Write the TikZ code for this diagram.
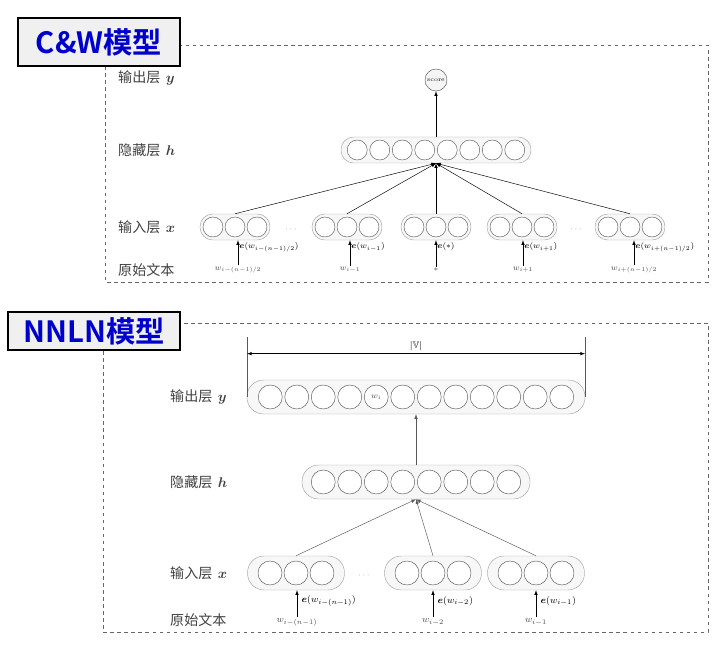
\documentclass[tikz,border=0pt]{standalone}
\usepackage{amssymb}
\usepackage{fontspec}
\usepackage{bm}
\newfontfamily\cjk{Noto Sans CJK SC}[BoldFont={Noto Sans CJK SC Bold}]
\usetikzlibrary{positioning}
\begin{document}
\begin{tikzpicture}[
	x=0.03cm, y=-0.03cm,
	frame/.style={draw=gray!80!black, dashed, thick},
	title/.style={draw, very thick, fill=gray!12, inner sep=0pt, font=\cjk\bfseries\fontsize{25}{25}\selectfont, text=blue!80!black},
	lbl/.style={anchor=west, inner sep=0pt, font=\cjk\fontsize{12}{12}\selectfont, text=black!75},
	cwlay/.style={draw=gray!70, fill=gray!6, rounded corners=0.38cm, minimum height=0.78cm, inner sep=0pt},
	nnlay/.style={draw=gray!70, fill=gray!6, rounded corners=0.5cm, minimum height=1.02cm, inner sep=0pt},
	cwunit/.style={circle, draw=gray!70!black, fill=white, minimum size=0.6cm, inner sep=0pt},
	nnunit/.style={circle, draw=gray!70!black, fill=white, minimum size=0.72cm, inner sep=0pt},
	word/.style={inner sep=1pt, font=\scriptsize, text=black!70},
	emb/.style={anchor=west, inner sep=1pt, font=\footnotesize},
	ArrowUp/.style={-latex, thin},
]
	\useasboundingbox (0,0) rectangle (720,650);

	% ---- C&W ----
	\draw [frame] (105,45) rectangle (708,282);
	\node [title, minimum width=4.86cm, minimum height=1.44cm] (cwtitle) at (99,42) {C\&W模型};
	\node [lbl] (cwy) at (118,78) {输出层\, $\bm{y}$};
	\node [lbl] (cwh) at (118,150) {隐藏层\, $\bm{h}$};
	\node [lbl] (cwx) at (118,227) {输入层\, $\bm{x}$};
	\node [lbl] (cwt) at (118,270) {原始文本};

	\node [circle, draw=gray!70!black, fill=gray!8, minimum size=0.66cm, inner sep=0pt, font=\tiny] (score) at (436,80) {score};
	\node [cwlay, minimum width=5.7cm] (cwhid) at (436,150) {};
	\foreach \i in {1,...,8}
		\node [cwunit] (cwh\i) at ({436+(\i-4.5)*22.5},150) {};

	\foreach \g/\c in {1/235, 2/347, 3/436, 4/522, 5/630} {
		\node [cwlay, minimum width=2.1cm] (cwg\g) at (\c,227) {};
		\foreach \i in {1,2,3}
			\node [cwunit] at ({\c+(\i-2)*22},227) {};
	}
	\node [font=\scriptsize, text=gray] (cwdots1) at (291,230) {$\cdots$};
	\node [font=\scriptsize, text=gray] (cwdots2) at (576,230) {$\cdots$};

	\draw [ArrowUp] (cwhid) -- (score);
	\foreach \g in {1,...,5}
		\draw [-latex, thin] (cwg\g.north) -- (cwhid.south);

	\node [word] (cww1) at (238,270) {$w_{i-(n-1)/2}$};
	\node [word] (cww2) at (350,270) {$w_{i-1}$};
	\node [word] (cww3) at (436,270) {$*$};
	\node [word] (cww4) at (523,270) {$w_{i+1}$};
	\node [word] (cww5) at (634,270) {$w_{i+(n-1)/2}$};
	\foreach \g/\e in {1/{w_{i-(n-1)/2}}, 2/{w_{i-1}}, 3/{*}, 4/{w_{i+1}}, 5/{w_{i+(n-1)/2}}} {
		\draw [ArrowUp] (cww\g.north) -- (cww\g.north |- cwg\g.south) coordinate (cwa\g);
		\node [emb, font=\scriptsize] at ([yshift=-0.2cm]cwa\g) {$\bm{e}(\e)$};
	}

	% ---- NNLN ----
	\draw [frame] (103,323) rectangle (708,632);
	\node [title, minimum width=5.16cm, minimum height=1.14cm] (nntitle) at (94,331) {NNLN模型};
	\node [lbl] (nny) at (170,397) {输出层\, $\bm{y}$};
	\node [lbl] (nnh) at (170,482) {隐藏层\, $\bm{h}$};
	\node [lbl] (nnx) at (170,573) {输入层\, $\bm{x}$};
	\node [lbl] (nnt) at (170,620) {原始文本};

	\node [nnlay, minimum width=10.14cm] (nnout) at (416,397) {};
	\foreach \i in {1,...,12}
		\node [nnunit] (nno\i) at ({416+(\i-6.5)*26.5},397) {};
	\node [font=\scriptsize, text=black!70] at (nno5) {$w_i$};

	\coordinate (vl) at (247,337);
	\coordinate (vr) at (585,337);
	\draw [gray!70!black, thin] (vl) -- (vl |- nnout.center);
	\draw [gray!70!black, thin] (vr) -- (vr |- nnout.center);
	\draw [latex-latex, thin] ([yshift=-0.5cm]vl) -- node [above=-1pt, font=\footnotesize] (vlab) {$|\mathbb{V}|$} ([yshift=-0.5cm]vr);

	\node [nnlay, minimum width=6.84cm] (nnhid) at (416,482) {};
	\foreach \i in {1,...,8}
		\node [nnunit] (nnh\i) at ({416+(\i-4.5)*26.5},482) {};

	\foreach \g/\c in {1/296, 2/433, 3/536} {
		\node [nnlay, minimum width=2.91cm] (nng\g) at (\c,573) {};
		\foreach \i in {1,2,3}
			\node [nnunit] at ({\c+(\i-2)*26},573) {};
	}
	\node [font=\scriptsize, text=gray] (nndots) at (364,576) {$\cdots$};

	\draw [ArrowUp, gray!70!black] (nnhid) -- (nnout);
	\foreach \g in {1,2,3}
		\draw [-latex, gray!70!black, thin] (nng\g.north) -- (nnhid.south);

	\node [word, font=\footnotesize] (nnw1) at (297,622) {$w_{i-(n-1)}$};
	\node [word, font=\footnotesize] (nnw2) at (433,622) {$w_{i-2}$};
	\node [word, font=\footnotesize] (nnw3) at (536,622) {$w_{i-1}$};
	\foreach \g/\e in {1/{w_{i-(n-1)}}, 2/{w_{i-2}}, 3/{w_{i-1}}} {
		\draw [ArrowUp] (nnw\g.north) -- (nnw\g.north |- nng\g.south) coordinate (nna\g);
		\node [emb] at ([xshift=0.1cm, yshift=-0.32cm]nna\g) {$\bm{e}(\e)$};
	}
\end{tikzpicture}
\end{document}
